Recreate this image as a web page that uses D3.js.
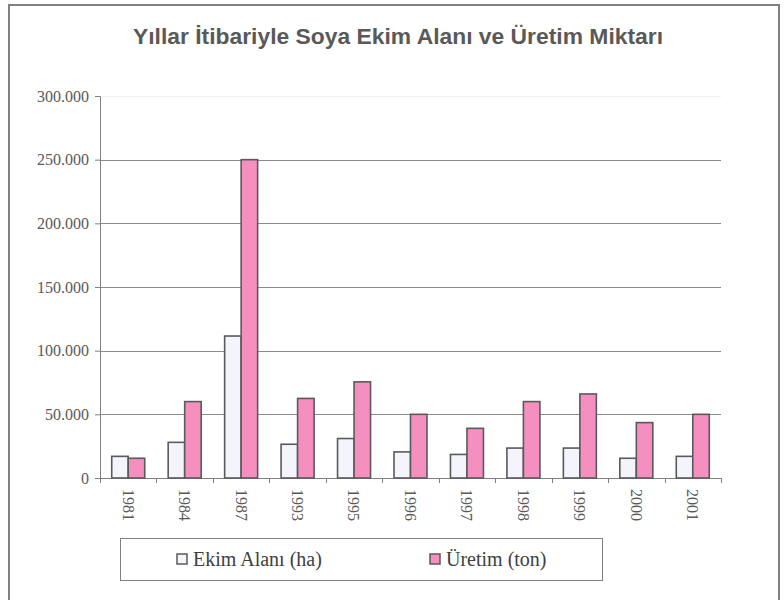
<!DOCTYPE html>
<html>
<head>
<meta charset="utf-8">
<script src="https://cdn.jsdelivr.net/npm/d3@7"></script>
<style>
  body { margin: 0; background: #fff; }
  svg { display: block; }
</style>
</head>
<body>
<svg id="chart"></svg>
<script>
'use strict';

var years = ['1981', '1984', '1987', '1993', '1995', '1996', '1997', '1998', '1999', '2000', '2001'];
var ekimAlani = [17000, 28000, 111500, 26500, 31000, 20500, 18500, 23500, 23500, 15500, 17000];
var uretim = [15500, 60000, 250000, 62500, 75500, 50000, 39000, 60000, 66000, 43500, 50000];
var seriesNames = ['Ekim Alanı (ha)', 'Üretim (ton)'];
var seriesColors = ['#f4f4fd', '#f48fc0'];
var yTicks = [0, 50000, 100000, 150000, 200000, 250000, 300000];
var chartTitle = 'Yıllar İtibariyle Soya Ekim Alanı ve Üretim Miktarı';

var W = 784, H = 600;
var margin = {top: 96, right: 63, bottom: 122, left: 100};
var width = W - margin.left - margin.right;
var height = H - margin.top - margin.bottom;

var svg = d3.select('#chart').attr('width', W).attr('height', H);

// outer frame
svg.append('rect')
  .attr('x', 9).attr('y', 5)
  .attr('width', 770).attr('height', 610)
  .attr('fill', 'none')
  .attr('stroke', '#808080')
  .attr('stroke-width', 2);

svg.append('text')
  .attr('x', 398).attr('y', 44)
  .attr('text-anchor', 'middle')
  .attr('textLength', 530)
  .attr('lengthAdjust', 'spacingAndGlyphs')
  .style('font-family', '"Liberation Sans", Arial, sans-serif')
  .style('font-weight', 'bold')
  .style('font-size', '22px')
  .style('fill', '#595959')
  .text(chartTitle);

var g = svg.append('g')
  .attr('transform', 'translate(' + margin.left + ',' + margin.top + ')');

var x = d3.scaleBand().domain(years).range([0, width]);
var y = d3.scaleLinear().domain([0, 300000]).range([height, 0]);

var tr = d3.formatLocale({decimal: ',', thousands: '.', grouping: [3], currency: ['', '']});
var fmt = tr.format(',d');

// grid
g.selectAll('.grid')
  .data(yTicks.filter(function(d) { return d > 0; }))
  .enter().append('line')
    .attr('x1', 0).attr('x2', width)
    .attr('y1', function(d) { return Math.round(y(d)) + 0.5; })
    .attr('y2', function(d) { return Math.round(y(d)) + 0.5; })
    .attr('stroke', function(d) { return d === 300000 ? '#f2f2f2' : '#8c8c8c'; })
    .attr('stroke-width', 1);

// y axis
var yAxis = g.append('g')
  .call(d3.axisLeft(y).tickValues(yTicks).tickFormat(fmt).tickSize(5).tickPadding(6));
yAxis.select('.domain').attr('stroke', '#808080');
yAxis.selectAll('.tick line').attr('stroke', '#808080');
yAxis.selectAll('.tick text')
  .style('font-family', '"Liberation Serif", "Times New Roman", serif')
  .style('font-size', '16px')
  .style('fill', '#595959');

// x axis
var xAxis = g.append('g')
  .attr('transform', 'translate(0,' + height + ')')
  .call(d3.axisBottom(x).tickSize(0).tickPadding(0));
xAxis.select('.domain').attr('stroke', '#808080').attr('d', 'M0.5,0.5H' + (width + 0.5));
xAxis.selectAll('.tick text')
  .attr('transform', 'rotate(90)')
  .attr('x', 11).attr('y', 0).attr('dy', '0.35em')
  .style('text-anchor', 'start')
  .style('font-family', '"Liberation Serif", "Times New Roman", serif')
  .style('font-size', '16px')
  .style('fill', '#595959');

// tick marks at band boundaries
g.selectAll('.xtick')
  .data(years.concat(['end']))
  .enter().append('line')
    .attr('x1', function(d, i) { return Math.round(i * x.step()) + 0.5; })
    .attr('x2', function(d, i) { return Math.round(i * x.step()) + 0.5; })
    .attr('y1', height).attr('y2', height + 5)
    .attr('stroke', '#808080');

// bars
var barW = 16.5;
var series = [ekimAlani, uretim];
series.forEach(function(vals, si) {
  g.selectAll('.bar' + si)
    .data(vals)
    .enter().append('rect')
      .attr('x', function(d, i) { return x(years[i]) + x.bandwidth() / 2 - barW + si * barW; })
      .attr('y', function(d) { return y(d); })
      .attr('width', barW)
      .attr('height', function(d) { return height - y(d); })
      .attr('fill', seriesColors[si])
      .attr('stroke', '#5a5a5a')
      .attr('stroke-width', 1.6);
});

// legend
var lg = svg.append('g');
lg.append('rect')
  .attr('x', 120.5).attr('y', 538.5)
  .attr('width', 482).attr('height', 42)
  .attr('fill', '#fff')
  .attr('stroke', '#808080');

var legendX = [177, 430];
seriesNames.forEach(function(name, i) {
  lg.append('rect')
    .attr('x', legendX[i]).attr('y', 554)
    .attr('width', 10).attr('height', 10)
    .attr('fill', seriesColors[i])
    .attr('stroke', '#5a5a5a')
    .attr('stroke-width', 1.5);
  lg.append('text')
    .attr('x', legendX[i] + 16).attr('y', 566)
    .style('font-family', '"Liberation Serif", "Times New Roman", serif')
    .style('font-size', '20px')
    .style('fill', '#404040')
    .text(name);
});
</script>
</body>
</html>
